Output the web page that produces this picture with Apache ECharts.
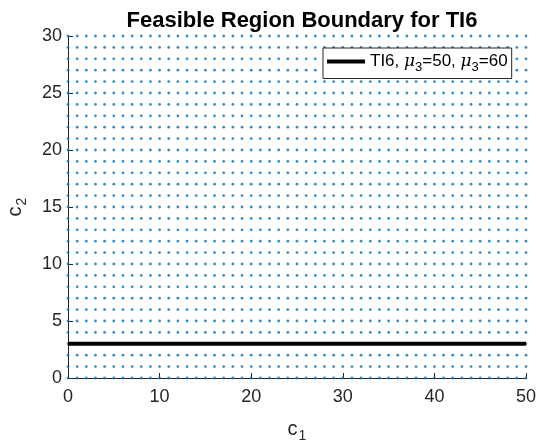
<!DOCTYPE html>
<html>
<head>
<meta charset="utf-8">
<script src="https://cdn.jsdelivr.net/npm/echarts@6/dist/echarts.min.js"></script>
<style>html,body{margin:0;padding:0;background:#fff;}#c{width:538px;height:447px;}</style>
</head>
<body>
<div id="c"></div>
<script>
// Feasible grid points
const gridX = [0,1,2,3,4,5,6,7,8,9,10,11,12,13,14,15,16,17,18,19,20,21,22,23,24,25,26,27,28,29,30,31,32,33,34,35,36,37,38,39,40,41,42,43,44,45,46,47,48,49,50];
const gridY = [0,1,2,3,4,5,6,7,8,9,10,11,12,13,14,15,16,17,18,19,20,21,22,23,24,25,26,27,28,29,30];
// Boundary line
const boundaryX = [0, 50];
const boundaryY = [3, 3];
const xTicks = [0,10,20,30,40,50];
const yTicks = [0,5,10,15,20,25,30];

const points = [];
gridX.forEach(x => gridY.forEach(y => points.push([x, y])));
const boundary = boundaryX.map((x, i) => [x, boundaryY[i]]);

const axisColor = '#262626';
const font = 'Liberation Sans, Arial, sans-serif';
const chart = echarts.init(document.getElementById('c'), null, {renderer: 'canvas'});
chart.setOption({
  animation: false,
  backgroundColor: '#fff',
  title: {
    text: 'Feasible Region Boundary for TI6',
    left: 297, top: 5, textAlign: 'center',
    textStyle: {fontFamily: font, fontSize: 22, fontWeight: 'bold', color: '#000'}
  },
  grid: {left: 68, top: 36, width: 458, height: 342, containLabel: false, outerBoundsMode: 'none'},
  xAxis: {
    type: 'value', min: 0, max: 50, interval: 10,
    splitLine: {show: false},
    axisLine: {lineStyle: {color: axisColor, width: 1}},
    axisTick: {inside: true, length: 5, lineStyle: {color: axisColor}},
    axisLabel: {fontFamily: font, fontSize: 18, color: axisColor, margin: 10,
      formatter: v => xTicks.includes(v) ? String(v) : ''},
    name: '{c|c}{s|1}', nameLocation: 'middle', nameGap: 37,
    nameTextStyle: {rich: {
      c: {fontFamily: font, fontSize: 20, color: axisColor},
      s: {fontFamily: font, fontSize: 14, color: axisColor, padding: [14, 0, 0, 1]}
    }}
  },
  yAxis: {
    type: 'value', min: 0, max: 30, interval: 5,
    splitLine: {show: false},
    axisLine: {show: true, lineStyle: {color: axisColor, width: 1}},
    axisTick: {show: true, inside: true, length: 5, lineStyle: {color: axisColor}},
    axisLabel: {fontFamily: font, fontSize: 18, color: axisColor, margin: 6,
      formatter: v => yTicks.includes(v) ? String(v) : ''},
    name: '{c|c}{s|2}', nameLocation: 'middle', nameGap: 39, nameRotate: 90,
    nameTextStyle: {rich: {
      c: {fontFamily: font, fontSize: 20, color: axisColor},
      s: {fontFamily: font, fontSize: 14, color: axisColor, padding: [14, 0, 0, 1]}
    }}
  },
  legend: {
    data: ['TI6'],
    left: 323, top: 48,
    orient: 'vertical',
    backgroundColor: '#fff',
    borderColor: axisColor, borderWidth: 1,
    padding: [5, 4, 5, 4],
    itemWidth: 38, itemHeight: 4, itemGap: 0,
    icon: 'rect',
    formatter: () => '{t|TI6, }{m|μ}{s|3}{t|=50, }{m|μ}{s|3}{t|=60}',
    textStyle: {rich: {
      t: {fontFamily: font, fontSize: 17, color: '#000'},
      m: {fontFamily: 'DejaVu Serif, serif', fontStyle: 'italic', fontSize: 17, color: '#000'},
      s: {fontFamily: font, fontSize: 13, color: '#000', padding: [11, 0, 0, 0]}
    }}
  },
  series: [
    {
      name: 'feasible', type: 'scatter', data: points,
      symbol: 'circle', symbolSize: 2.8, clip: false,
      itemStyle: {color: '#0072BD'}, z: 2, silent: true
    },
    {
      name: 'TI6', type: 'line', data: boundary,
      showSymbol: false, symbol: 'none',
      lineStyle: {color: '#000', width: 4},
      itemStyle: {color: '#000'}, z: 3
    }
  ]
});
</script>
</body>
</html>
